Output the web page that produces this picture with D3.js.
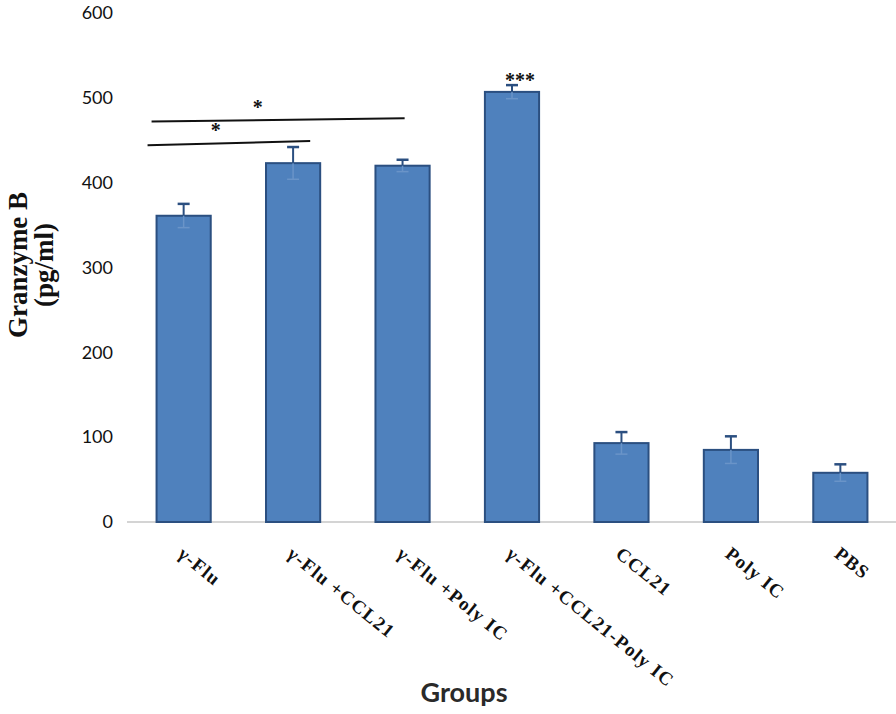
<!DOCTYPE html>
<html><head><meta charset="utf-8">
<script src="https://cdn.jsdelivr.net/npm/d3@7"></script>
<style>body{margin:0;background:#fff}svg{display:block}</style>
</head><body>
<svg id="c" width="896" height="714"></svg>
<script>
const categories = ["γ-Flu", "γ-Flu +CCL21", "γ-Flu +Poly IC", "γ-Flu +CCL21-Poly IC", "CCL21", "Poly IC", "PBS"];
const values = [361, 423, 420, 507, 93, 85, 58];
const errors = [14, 19, 7, 8, 13, 16, 10];
const yTicks = [0, 100, 200, 300, 400, 500, 600];
const sigLines = [
  {from: 0, to: 2, y: [472, 476], label: "*"},
  {from: 0, to: 1, y: [444, 449], label: "*"}
];
const sigTop = {index: 3, label: "***"};

const svg = d3.select("#c");
const x = d3.scaleBand().domain(categories).range([127, 897]).paddingInner(0.505).paddingOuter(0.27);
const y = d3.scaleLinear().domain([0, 600]).range([522, 13]);
const bw = x.bandwidth();
const cx = d => x(d) + bw / 2;

// baseline
svg.append("line").attr("x1", 127).attr("x2", 896).attr("y1", y(0)).attr("y2", y(0))
  .attr("stroke", "#d4d4d4").attr("stroke-width", 2);

// y tick labels
const yAxis = d3.axisLeft(y).tickValues(yTicks).tickSize(0).tickPadding(0);
const ga = svg.append("g").attr("transform", "translate(113,0)").call(yAxis);
ga.select(".domain").remove();
ga.selectAll("text").attr("font-family", "Lato, 'Open Sans', sans-serif").attr("font-size", 18).attr("fill", "#111");

// bars
svg.selectAll("rect.bar").data(categories).join("rect").attr("class", "bar")
  .attr("x", d => x(d)).attr("width", bw)
  .attr("y", (d, i) => y(values[i])).attr("height", (d, i) => y(0) - y(values[i]))
  .attr("fill", "#4f81bd").attr("stroke", "#2b4f80").attr("stroke-width", 2);

// error bars
const eb = svg.selectAll("g.eb").data(categories).join("g").attr("class", "eb");
eb.append("line").attr("x1", cx).attr("x2", cx)
  .attr("y1", (d, i) => y(values[i])).attr("y2", (d, i) => y(values[i] + errors[i]))
  .attr("stroke", "#2b4f80").attr("stroke-width", 2);
eb.append("line").attr("x1", d => cx(d) - 6).attr("x2", d => cx(d) + 6)
  .attr("y1", (d, i) => y(values[i] + errors[i])).attr("y2", (d, i) => y(values[i] + errors[i]))
  .attr("stroke", "#2b4f80").attr("stroke-width", 2.5);
eb.append("line").attr("x1", cx).attr("x2", cx)
  .attr("y1", (d, i) => y(values[i])).attr("y2", (d, i) => y(values[i] - errors[i]))
  .attr("stroke", "#6a94c8").attr("stroke-width", 1.5);
eb.append("line").attr("x1", d => cx(d) - 6).attr("x2", d => cx(d) + 6)
  .attr("y1", (d, i) => y(values[i] - errors[i])).attr("y2", (d, i) => y(values[i] - errors[i]))
  .attr("stroke", "#6a94c8").attr("stroke-width", 1.5);

// significance lines
sigLines.forEach((s, k) => {
  const x1 = x(categories[s.from]) - (k === 0 ? 5 : 9);
  const x2 = x(categories[s.to]) + bw - (k === 0 ? 25 : 10);
  svg.append("line").attr("x1", x1).attr("x2", x2).attr("y1", y(s.y[0])).attr("y2", y(s.y[1]))
    .attr("stroke", "#111").attr("stroke-width", 2);
  svg.append("text").attr("x", x1 + 0.42 * (x2 - x1)).attr("y", y((s.y[0] + s.y[1]) / 2) - 6)
    .attr("text-anchor", "middle").attr("font-family", "'Liberation Serif', serif").attr("font-weight", "bold")
    .attr("font-size", 20).attr("fill", "#111").text(s.label);
});
svg.append("text").attr("x", cx(categories[sigTop.index]) + 8)
  .attr("y", y(values[sigTop.index] + errors[sigTop.index]) + 2)
  .attr("text-anchor", "middle").attr("font-family", "'Liberation Serif', serif").attr("font-weight", "bold")
  .attr("font-size", 20).attr("fill", "#111").text(sigTop.label);

// x labels
svg.selectAll("text.xl").data(categories).join("text").attr("class", "xl")
  .attr("transform", d => `translate(${cx(d) - 7},${556}) rotate(39)`)
  .attr("font-family", "'Liberation Serif', serif").attr("font-weight", "bold").attr("font-size", 19)
  .attr("letter-spacing", 1.2).attr("fill", "#111").text(d => d);

// axis titles
svg.append("text").attr("transform", "translate(27,265) rotate(-90)").attr("text-anchor", "middle")
  .attr("font-family", "'Liberation Serif', serif").attr("font-weight", "bold").attr("font-size", 27)
  .attr("fill", "#111").text("Granzyme B");
svg.append("text").attr("transform", "translate(53,265) rotate(-90)").attr("text-anchor", "middle")
  .attr("font-family", "'Liberation Serif', serif").attr("font-weight", "bold").attr("font-size", 27)
  .attr("fill", "#111").text("(pg/ml)");
svg.append("text").attr("x", 464).attr("y", 702).attr("text-anchor", "middle")
  .attr("font-family", "Lato, 'Open Sans', sans-serif").attr("font-weight", "bold").attr("font-size", 27)
  .attr("fill", "#2a2a2a").text("Groups");
</script>
</body></html>
